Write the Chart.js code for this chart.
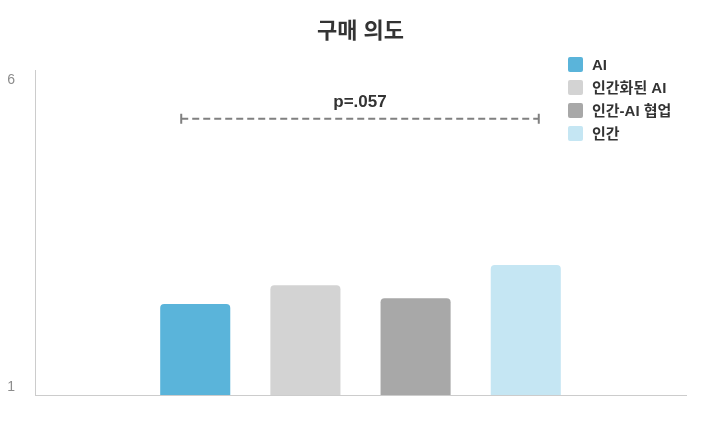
<!DOCTYPE html>
<html>
<head>
<meta charset="utf-8">
<script src="https://cdn.jsdelivr.net/npm/chart.js@4.4.0/dist/chart.umd.min.js"></script>
<style>
  html, body { margin: 0; padding: 0; background: #fff; }
  #wrap { width: 703px; height: 423px; }
</style>
</head>
<body>
<div id="wrap"><canvas id="chart"></canvas></div>
<script>
const title = '구매 의도'
const groups = ['AI', '인간화된 AI', '인간-AI 협업', '인간']
const values = [2.4, 2.69, 2.49, 3.0]
const colors = ['#5ab4da', '#d3d3d3', '#a8a8a8', '#c5e6f3']
const yTicks = [1, 6]
const pLabel = 'p=.057'
const pLevel = 5.25   // y value the bracket sits at

const FONT = 'Arial, "Liberation Sans", "Noto Sans CJK KR", sans-serif'
Chart.defaults.font.family = FONT

// draws y labels, legend and the p-value bracket by hand
const extras = {
    id: 'extras',
    afterDatasetsDraw(chart) {
        const ctx = chart.ctx
        const area = chart.chartArea
        const yScale = chart.scales.y
        ctx.save()

        // y tick labels, the end ones pulled inward
        ctx.fillStyle = '#8c8c8c'
        ctx.font = '14px ' + FONT
        ctx.textAlign = 'right'
        ctx.textBaseline = 'alphabetic'
        yTicks.forEach(v => {
            let py = yScale.getPixelForValue(v)
            py = v === yScale.max ? py + 14 : py - 4
            ctx.fillText(String(v), area.left - 20, py)
        })

        // legend
        ctx.textAlign = 'left'
        ctx.textBaseline = 'middle'
        ctx.font = '600 15px ' + FONT
        chart.data.datasets.forEach((ds, i) => {
            const bx = area.right - 118
            const cy = area.top - 5.5 + i * 23
            ctx.fillStyle = ds.backgroundColor
            ctx.beginPath()
            ctx.roundRect(bx, cy - 7.5, 15, 15, 2)
            ctx.fill()
            ctx.fillStyle = '#333333'
            ctx.fillText(ds.label, bx + 24, cy + 1)
        })

        // bracket between first and last bar
        const first = chart.getDatasetMeta(0).data[0]
        const last = chart.getDatasetMeta(chart.data.datasets.length - 1).data[0]
        const x0 = first.x - 14
        const x1 = last.x + 13
        const by = yScale.getPixelForValue(pLevel)
        ctx.strokeStyle = '#808080'
        ctx.lineWidth = 2
        ctx.setLineDash([7, 4])
        ctx.beginPath()
        ctx.moveTo(x0, by)
        ctx.lineTo(x1, by)
        ctx.stroke()
        ctx.setLineDash([])
        ctx.beginPath()
        ctx.moveTo(x0, by - 5); ctx.lineTo(x0, by + 5)
        ctx.moveTo(x1, by - 5); ctx.lineTo(x1, by + 5)
        ctx.stroke()

        ctx.fillStyle = '#333333'
        ctx.font = 'bold 17px ' + FONT
        ctx.textAlign = 'center'
        ctx.textBaseline = 'alphabetic'
        ctx.fillText(pLabel, (x0 + x1) / 2, by - 12)

        ctx.restore()
    }
}

const datasets = groups.map((g, i) => ({
    label: g,
    data: [values[i]],
    backgroundColor: colors[i],
    borderRadius: 4,
    categoryPercentage: 0.677,
    barPercentage: 0.636
}))

new Chart(document.getElementById('chart'), {
    type: 'bar',
    data: { labels: [title], datasets: datasets },
    options: {
        responsive: true,
        maintainAspectRatio: false,
        animation: false,
        layout: { padding: { left: 35, right: 17, top: 0, bottom: 28 } },
        plugins: {
            legend: { display: false },
            tooltip: { enabled: false },
            title: {
                display: true,
                text: title,
                color: '#333333',
                font: { size: 22, weight: 'bold' },
                padding: { top: 19, bottom: 24.6 }
            }
        },
        scales: {
            x: {
                ticks: { display: false },
                grid: { display: false, drawTicks: false },
                border: { display: true, color: '#cccccc', width: 1 }
            },
            y: {
                min: 1,
                max: 6,
                ticks: { display: false },
                grid: { display: false, drawTicks: false },
                border: { display: true, color: '#cccccc', width: 1 }
            }
        }
    },
    plugins: [extras]
})
</script>
</body>
</html>
